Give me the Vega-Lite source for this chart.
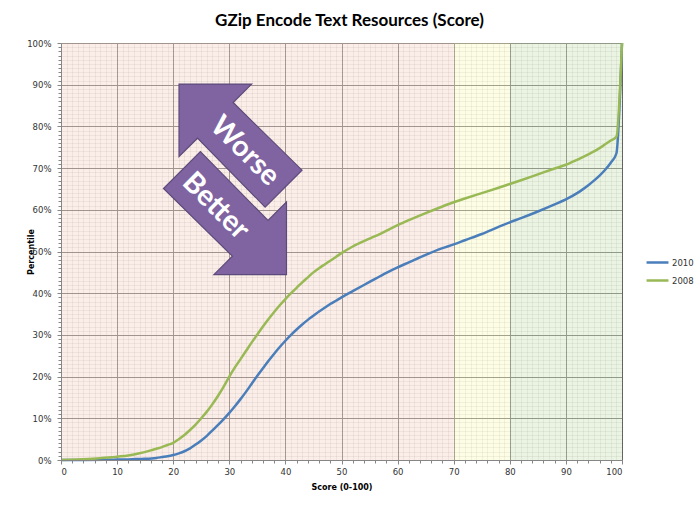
{
  "$schema": "https://vega.github.io/schema/vega-lite/v6.json",
  "width": 561,
  "height": 417,
  "autosize": {"type": "none"},
  "padding": {"left": 61, "top": 43, "right": 78, "bottom": 49},
  "background": "white",
  "title": {"text": "GZip Encode Text Resources (Score)", "font": "Lato", "fontSize": 17, "fontWeight": "bold", "color": "#000000", "anchor": "middle", "offset": 8, "dx": 8},
  "config": {
    "view": {"stroke": null},
    "axis": {"labelFont": "DejaVu Sans", "labelFontSize": 8.5, "labelColor": "#333333", "titleFont": "DejaVu Sans", "titleFontSize": 8, "titleFontWeight": "bold", "titleColor": "#000000"}
  },
  "datasets": {
    "zones": [
      {"zone": "low", "start": 0, "end": 70},
      {"zone": "mid", "start": 70, "end": 80},
      {"zone": "high", "start": 80, "end": 100}
    ],
    "arrows": [
      {"label": "Worse", "score": 32.0, "pct": 0.754},
      {"label": "Better", "score": 29.23, "pct": 0.592}
    ],
    "labels": [
      {"label": "Worse", "score": 32.8, "pct": 0.741},
      {"label": "Better", "score": 27.6, "pct": 0.609}
    ],
    "curves": [
      {"year": "2010", "score": 0, "pct": 0},
      {"year": "2010", "score": 4, "pct": 0},
      {"year": "2010", "score": 8, "pct": 0.0005},
      {"year": "2010", "score": 10, "pct": 0.001},
      {"year": "2010", "score": 12, "pct": 0.0015},
      {"year": "2010", "score": 14, "pct": 0.0025},
      {"year": "2010", "score": 15, "pct": 0.003},
      {"year": "2010", "score": 17, "pct": 0.005},
      {"year": "2010", "score": 18, "pct": 0.007},
      {"year": "2010", "score": 19, "pct": 0.009},
      {"year": "2010", "score": 20, "pct": 0.012},
      {"year": "2010", "score": 21, "pct": 0.016},
      {"year": "2010", "score": 22, "pct": 0.021},
      {"year": "2010", "score": 23, "pct": 0.028},
      {"year": "2010", "score": 24, "pct": 0.037},
      {"year": "2010", "score": 25, "pct": 0.047},
      {"year": "2010", "score": 26, "pct": 0.058},
      {"year": "2010", "score": 27, "pct": 0.071},
      {"year": "2010", "score": 28, "pct": 0.084},
      {"year": "2010", "score": 29, "pct": 0.098},
      {"year": "2010", "score": 30, "pct": 0.113},
      {"year": "2010", "score": 31, "pct": 0.129},
      {"year": "2010", "score": 32, "pct": 0.146},
      {"year": "2010", "score": 33, "pct": 0.164},
      {"year": "2010", "score": 34, "pct": 0.183},
      {"year": "2010", "score": 35, "pct": 0.202},
      {"year": "2010", "score": 36, "pct": 0.220},
      {"year": "2010", "score": 37, "pct": 0.238},
      {"year": "2010", "score": 38, "pct": 0.255},
      {"year": "2010", "score": 39, "pct": 0.271},
      {"year": "2010", "score": 40, "pct": 0.286},
      {"year": "2010", "score": 41, "pct": 0.300},
      {"year": "2010", "score": 42, "pct": 0.313},
      {"year": "2010", "score": 43, "pct": 0.325},
      {"year": "2010", "score": 44, "pct": 0.336},
      {"year": "2010", "score": 45, "pct": 0.346},
      {"year": "2010", "score": 46, "pct": 0.356},
      {"year": "2010", "score": 47, "pct": 0.365},
      {"year": "2010", "score": 48, "pct": 0.374},
      {"year": "2010", "score": 49, "pct": 0.382},
      {"year": "2010", "score": 50, "pct": 0.390},
      {"year": "2010", "score": 52, "pct": 0.405},
      {"year": "2010", "score": 55, "pct": 0.427},
      {"year": "2010", "score": 58, "pct": 0.449},
      {"year": "2010", "score": 60, "pct": 0.462},
      {"year": "2010", "score": 62, "pct": 0.474},
      {"year": "2010", "score": 65, "pct": 0.492},
      {"year": "2010", "score": 68, "pct": 0.508},
      {"year": "2010", "score": 70, "pct": 0.517},
      {"year": "2010", "score": 72, "pct": 0.527},
      {"year": "2010", "score": 75, "pct": 0.542},
      {"year": "2010", "score": 78, "pct": 0.559},
      {"year": "2010", "score": 80, "pct": 0.570},
      {"year": "2010", "score": 82, "pct": 0.580},
      {"year": "2010", "score": 85, "pct": 0.596},
      {"year": "2010", "score": 88, "pct": 0.613},
      {"year": "2010", "score": 90, "pct": 0.625},
      {"year": "2010", "score": 92, "pct": 0.640},
      {"year": "2010", "score": 93, "pct": 0.649},
      {"year": "2010", "score": 94, "pct": 0.659},
      {"year": "2010", "score": 95, "pct": 0.670},
      {"year": "2010", "score": 96, "pct": 0.682},
      {"year": "2010", "score": 97, "pct": 0.696},
      {"year": "2010", "score": 98, "pct": 0.713},
      {"year": "2010", "score": 99, "pct": 0.735},
      {"year": "2010", "score": 100, "pct": 1.0},
      {"year": "2008", "score": 0, "pct": 0},
      {"year": "2008", "score": 3, "pct": 0.001},
      {"year": "2008", "score": 5, "pct": 0.0025},
      {"year": "2008", "score": 7, "pct": 0.0045},
      {"year": "2008", "score": 9, "pct": 0.0065},
      {"year": "2008", "score": 10, "pct": 0.008},
      {"year": "2008", "score": 12, "pct": 0.011},
      {"year": "2008", "score": 14, "pct": 0.016},
      {"year": "2008", "score": 16, "pct": 0.023},
      {"year": "2008", "score": 17, "pct": 0.027},
      {"year": "2008", "score": 18, "pct": 0.031},
      {"year": "2008", "score": 19, "pct": 0.036},
      {"year": "2008", "score": 20, "pct": 0.041},
      {"year": "2008", "score": 21, "pct": 0.050},
      {"year": "2008", "score": 22, "pct": 0.060},
      {"year": "2008", "score": 23, "pct": 0.072},
      {"year": "2008", "score": 24, "pct": 0.085},
      {"year": "2008", "score": 25, "pct": 0.100},
      {"year": "2008", "score": 26, "pct": 0.116},
      {"year": "2008", "score": 27, "pct": 0.134},
      {"year": "2008", "score": 28, "pct": 0.154},
      {"year": "2008", "score": 29, "pct": 0.176},
      {"year": "2008", "score": 30, "pct": 0.200},
      {"year": "2008", "score": 31, "pct": 0.222},
      {"year": "2008", "score": 32, "pct": 0.242},
      {"year": "2008", "score": 33, "pct": 0.262},
      {"year": "2008", "score": 34, "pct": 0.282},
      {"year": "2008", "score": 35, "pct": 0.301},
      {"year": "2008", "score": 36, "pct": 0.320},
      {"year": "2008", "score": 37, "pct": 0.338},
      {"year": "2008", "score": 38, "pct": 0.355},
      {"year": "2008", "score": 39, "pct": 0.371},
      {"year": "2008", "score": 40, "pct": 0.386},
      {"year": "2008", "score": 41, "pct": 0.400},
      {"year": "2008", "score": 42, "pct": 0.413},
      {"year": "2008", "score": 43, "pct": 0.426},
      {"year": "2008", "score": 44, "pct": 0.438},
      {"year": "2008", "score": 45, "pct": 0.450},
      {"year": "2008", "score": 46, "pct": 0.460},
      {"year": "2008", "score": 47, "pct": 0.469},
      {"year": "2008", "score": 48, "pct": 0.478},
      {"year": "2008", "score": 49, "pct": 0.487},
      {"year": "2008", "score": 50, "pct": 0.496},
      {"year": "2008", "score": 52, "pct": 0.512},
      {"year": "2008", "score": 54, "pct": 0.525},
      {"year": "2008", "score": 55, "pct": 0.531},
      {"year": "2008", "score": 57, "pct": 0.543},
      {"year": "2008", "score": 60, "pct": 0.563},
      {"year": "2008", "score": 62, "pct": 0.575},
      {"year": "2008", "score": 65, "pct": 0.592},
      {"year": "2008", "score": 68, "pct": 0.608},
      {"year": "2008", "score": 70, "pct": 0.618},
      {"year": "2008", "score": 72, "pct": 0.627},
      {"year": "2008", "score": 75, "pct": 0.640},
      {"year": "2008", "score": 78, "pct": 0.653},
      {"year": "2008", "score": 80, "pct": 0.662},
      {"year": "2008", "score": 82, "pct": 0.671},
      {"year": "2008", "score": 85, "pct": 0.685},
      {"year": "2008", "score": 88, "pct": 0.699},
      {"year": "2008", "score": 90, "pct": 0.708},
      {"year": "2008", "score": 92, "pct": 0.720},
      {"year": "2008", "score": 94, "pct": 0.733},
      {"year": "2008", "score": 95, "pct": 0.740},
      {"year": "2008", "score": 96, "pct": 0.748},
      {"year": "2008", "score": 97, "pct": 0.757},
      {"year": "2008", "score": 98, "pct": 0.766},
      {"year": "2008", "score": 99, "pct": 0.775},
      {"year": "2008", "score": 100, "pct": 1.0}
    ]
  },
  "layer": [
    {
      "data": {"name": "zones"},
      "mark": {"type": "rect", "opacity": 0.45},
      "encoding": {
        "x": {"field": "start", "type": "quantitative", "scale": {"domain": [0, 100], "nice": false},
          "axis": {"orient": "bottom", "grid": true, "gridColor": "#000000", "gridOpacity": 0.085, "tickCount": 100, "labels": false, "ticks": false, "domain": false, "title": null, "zindex": 0}},
        "x2": {"field": "end"},
        "color": {"field": "zone", "type": "nominal", "scale": {"domain": ["low", "mid", "high"], "range": ["#f7d7c9", "#fafac6", "#d2e6c2"]}, "legend": null}
      }
    },
    {
      "data": {"name": "arrows"},
      "transform": [{"filter": "datum.label === 'Worse'"}],
      "mark": {"type": "point", "shape": "M-1,-1L0.18,-1L-0.12,-0.7L1,0.4L0.4,1L-0.7,-0.12L-1,0.18Z", "filled": true, "fill": "#8064a2", "stroke": "#5c4a7a", "strokeWidth": 1.2, "opacity": 1, "size": 15129},
      "encoding": {
        "x": {"field": "score", "type": "quantitative", "scale": {"domain": [0, 100], "nice": false},
          "axis": {"orient": "bottom", "values": [0, 10, 20, 30, 40, 50, 60, 70, 80, 90, 100], "grid": true, "gridColor": "#656565", "labels": false, "ticks": false, "domain": false, "title": null, "zindex": 0}},
        "y": {"field": "pct", "type": "quantitative", "scale": {"domain": [0, 1], "nice": false},
          "axis": {"orient": "left", "values": [0, 0.1, 0.2, 0.3, 0.4, 0.5, 0.6, 0.7, 0.8, 0.9, 1], "grid": true, "gridColor": "#656565", "labels": false, "ticks": false, "domain": false, "title": null, "zindex": 0}}
      }
    },
    {
      "data": {"name": "arrows"},
      "transform": [{"filter": "datum.label === 'Better'"}],
      "mark": {"type": "point", "shape": "M-1,-1L0.18,-1L-0.12,-0.7L1,0.4L0.4,1L-0.7,-0.12L-1,0.18Z", "angle": 180, "filled": true, "fill": "#8064a2", "stroke": "#5c4a7a", "strokeWidth": 1.2, "opacity": 1, "size": 15129},
      "encoding": {
        "x": {"field": "score", "type": "quantitative", "scale": {"domain": [0, 100], "nice": false},
          "axis": {"orient": "bottom", "tickCount": 50, "grid": false, "ticks": true, "tickSize": 3, "tickColor": "#868686", "labels": false, "domain": false, "title": null, "zindex": 0}},
        "y": {"field": "pct", "type": "quantitative", "scale": {"domain": [0, 1], "nice": false},
          "axis": {"orient": "left", "tickCount": 100, "grid": true, "gridColor": "#000000", "gridOpacity": 0.085, "ticks": true, "tickSize": 3, "tickColor": "#868686", "labels": false, "domain": false, "title": null, "zindex": 0}}
      }
    },
    {
      "data": {"name": "labels"},
      "mark": {"type": "text", "angle": 45, "font": "Lato", "fontSize": 29, "fontWeight": "bold", "color": "#ffffff", "align": "center", "baseline": "middle"},
      "encoding": {
        "x": {"field": "score", "type": "quantitative", "scale": {"domain": [0, 100], "nice": false}, "axis": null},
        "y": {"field": "pct", "type": "quantitative", "scale": {"domain": [0, 1], "nice": false}, "axis": null},
        "text": {"field": "label"}
      }
    },
    {
      "data": {"name": "curves"},
      "mark": {"type": "line", "strokeWidth": 2.5, "interpolate": "monotone"},
      "encoding": {
        "x": {"field": "score", "type": "quantitative", "scale": {"domain": [0, 100], "nice": false},
          "axis": {"orient": "bottom", "values": [0, 10, 20, 30, 40, 50, 60, 70, 80, 90, 100], "grid": false, "tickSize": 4, "tickColor": "#868686", "domainColor": "#868686", "labelPadding": 3, "title": "Score (0-100)", "titlePadding": 8, "zindex": 1}},
        "y": {"field": "pct", "type": "quantitative", "scale": {"domain": [0, 1], "nice": false},
          "axis": {"orient": "left", "values": [0, 0.1, 0.2, 0.3, 0.4, 0.5, 0.6, 0.7, 0.8, 0.9, 1], "format": ".0%", "grid": false, "tickSize": 4, "tickColor": "#868686", "domainColor": "#868686", "labelPadding": 6, "title": "Percentile", "titleX": -26, "zindex": 1}},
        "color": {"field": "year", "type": "nominal", "scale": {"domain": ["2010", "2008"], "range": ["#4a7ebb", "#98b954"]},
          "legend": {"title": null, "orient": "none", "legendX": 584, "legendY": 207, "symbolType": "stroke", "symbolSize": 480, "symbolStrokeWidth": 2.5, "labelFont": "DejaVu Sans", "labelFontSize": 8.5, "labelColor": "#333333", "rowPadding": -1, "labelOffset": 2}}
      }
    }
  ],
  "resolve": {"scale": {"color": "independent"}, "axis": {"x": "independent", "y": "independent"}}
}
